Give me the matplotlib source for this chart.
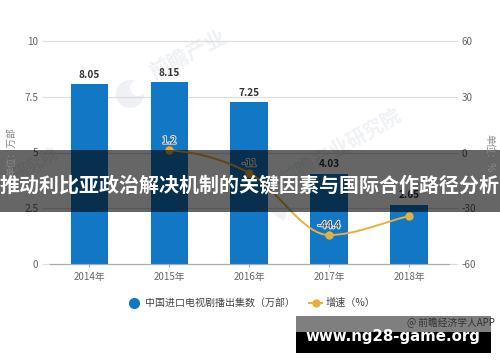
import numpy as np
import matplotlib
matplotlib.use('Agg')
import matplotlib.pyplot as plt
import matplotlib.patheffects as pe
from matplotlib.path import Path
from matplotlib.patches import PathPatch, Rectangle, Circle

plt.rcParams['font.family'] = ['Noto Sans CJK SC', 'DejaVu Sans']

years = ['2014年', '2015年', '2016年', '2017年', '2018年']
episodes = [8.05, 8.15, 7.25, 4.03, 2.65]
growth = [1.2, -11, -44.4, -34.2]
growth_labels = ['1.2', '-11', '-44.4']
left_ticks = [0, 2.5, 5, 7.5, 10]
right_ticks = [-60, -30, 0, 30, 60]

W, H = 500, 362
BLUE = '#1277c4'
YELLOW = '#e8b03a'
GREY = '#666666'
MARK = '#eff1f4'


def px_axes(fig, x0, y0, x1, y1, **kw):
    return fig.add_axes([x0 / W, 1 - y1 / H, (x1 - x0) / W, (y1 - y0) / H], **kw)


def smooth_path(xs, ys):
    # same kind of smoothing the original line has, tangent from the neighbours
    xs = np.array(xs, dtype=float)
    ys = np.array(ys, dtype=float)
    slopes = np.gradient(ys, xs)
    slopes[0] = -3
    slopes[2] = 0.15
    verts = [(xs[0], ys[0])]
    codes = [Path.MOVETO]
    for i in range(len(xs) - 1):
        dx = (xs[i + 1] - xs[i]) / 3
        verts += [(xs[i] + dx, ys[i] + slopes[i] * dx),
                  (xs[i + 1] - dx, ys[i + 1] - slopes[i + 1] * dx),
                  (xs[i + 1], ys[i + 1])]
        codes += [Path.CURVE4] * 3
    return Path(verts, codes)


fig = plt.figure(figsize=(W / 100, H / 100), dpi=100, facecolor='white')

# whole figure in pixel coordinates, for the watermark
bg = fig.add_axes([0, 0, 1, 1], zorder=0)
bg.set_xlim(0, W)
bg.set_ylim(H, 0)
bg.axis('off')
bg.text(187, 54, '前瞻产业', fontsize=15, color=MARK, rotation=27, ha='center', va='center', weight='bold')
bg.text(340, 148, '前瞻产业研究院', fontsize=14, color=MARK, rotation=30, ha='center', va='center', weight='bold')
bg.text(36, 165, '研究院', fontsize=12, color=MARK, rotation=30, ha='center', va='center', weight='bold')
bg.add_patch(Circle((130, 94), 14, fc=MARK, ec='none'))
bg.add_patch(Circle((138, 88), 8, fc='white', ec='none'))
bg.fill([268, 287, 284], [210, 211, 221], color=MARK, lw=0)

ax = px_axes(fig, 49.5, 41, 449, 264, zorder=1)
ax.patch.set_alpha(0)
x = np.arange(len(years))
ax.set_xlim(-0.5, 4.5)
ax.set_ylim(0, 10)
for t in left_ticks:
    ax.plot([-0.585, 4.6], [t, t], color='#dddddd', lw=0.9, clip_on=False, zorder=0)
ax.bar(x, episodes, width=0.47, color=BLUE, zorder=2)
for i, v in enumerate(episodes):
    ax.annotate(f'{v:.2f}', (i, v), xytext=(0, 7), textcoords='offset points', ha='center', va='center',
                fontsize=7.2, color='#333333', weight='bold', zorder=5)

for s in ['top', 'left', 'right']:
    ax.spines[s].set_visible(False)
ax.spines['bottom'].set_color('#aaaaaa')
ax.set_xticks(x)
ax.set_xticklabels(years, fontsize=7, color=GREY)
ax.tick_params(axis='x', length=2.5, color='#aaaaaa', pad=3)
ax.set_yticks(left_ticks)
ax.set_yticklabels(['0', '2.5', '5', '7.5', '10'], fontsize=7.2, color=GREY)
ax.tick_params(axis='y', length=0, pad=8)

ax2 = ax.twinx()
ax2.patch.set_alpha(0)
ax2.set_ylim(-60, 60)
ax2.set_yticks(right_ticks)
ax2.set_yticklabels([str(t) for t in right_ticks], fontsize=7.2, color=GREY)
ax2.tick_params(axis='y', length=0, pad=9)
for s in ax2.spines.values():
    s.set_visible(False)
gx = x[1:]
ax2.add_patch(PathPatch(smooth_path(gx, growth), fill=False, edgecolor=YELLOW, lw=1.4, zorder=3))
ax2.plot(gx, growth, 'o', color=YELLOW, ms=5, zorder=4)
for i, lab in enumerate(growth_labels):
    ax2.annotate(lab, (gx[i], growth[i]), xytext=(0, 7), textcoords='offset points', ha='center', va='center',
                 fontsize=7.2, color='#333333', zorder=5,
                 path_effects=[pe.withStroke(linewidth=1.6, foreground='white', alpha=0.8)])

# axis units and legend
top = fig.add_axes([0, 0, 1, 1], zorder=3)
top.patch.set_alpha(0)
top.set_xlim(0, W)
top.set_ylim(H, 0)
top.axis('off')
top.text(11, 152, '单位：万部', fontsize=7, color='#888888', rotation=90, ha='center', va='center')
top.text(489, 153, '单位：%', fontsize=7, color='#888888', rotation=-90, ha='center', va='center')
top.plot([133.5], [302.5], 'o', color=BLUE, ms=7)
top.text(145, 302.5, '中国进口电视剧播出集数（万部）', fontsize=7.2, color='#444444', va='center', weight='medium')
top.plot([309, 322], [303, 303], color=YELLOW, lw=1.4)
top.plot([315.5], [303], 'o', color=YELLOW, ms=5)
top.text(326, 303, '增速（%）', fontsize=7.3, color='#444444', va='center', weight='medium')

# overlay band and footer
top.add_patch(Rectangle((0, 150), W, 62, fc='black', alpha=0.6, ec='none'))
top.text(250, 185, '推动利比亚政治解决机制的关键因素与国际合作路径分析', fontsize=14.4, color='white',
         ha='center', va='center', weight='bold')
top.add_patch(Rectangle((296, 316), 195, 16, fc='black', alpha=0.5, ec='none'))
top.add_patch(Rectangle((296, 332), 195, 21, fc='black', ec='none'))
top.text(407, 323, '@ 前瞻经济学人APP', fontsize=7, color='#333333', ha='left', va='center')
top.text(393, 337, 'www.ng28-game.org', fontsize=10.8, color='white', ha='center', va='center', weight='bold',
         family='DejaVu Sans')

fig.savefig('out.png', dpi=100)
